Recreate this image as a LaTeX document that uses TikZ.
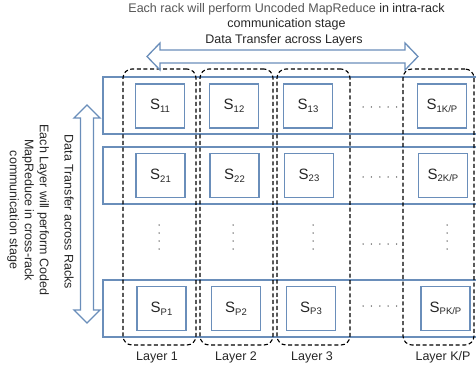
\documentclass[tikz,border=0pt]{standalone}
\usepackage{fontspec}
\setmainfont{Liberation Sans}
\definecolor{rackblue}{HTML}{6A8EBA}
\definecolor{txt}{HTML}{262626}
\definecolor{graytxt}{HTML}{555555}
\newcommand{\Sx}[1]{{\fontsize{15}{18}\selectfont S}\raisebox{-2.6pt}{\fontsize{9.5}{11}\selectfont #1}}
\tikzset{
  rack/.style={draw=rackblue, line width=1.3pt, minimum width=387pt, minimum height=57pt, inner sep=0pt},
  sbox/.style={draw=rackblue, line width=1.3pt, minimum width=49pt, minimum height=44pt, inner sep=0pt, text=txt},
  layerbox/.style={draw=black, dashed, dash pattern=on 4pt off 2.6pt, line width=1.1pt, rounded corners=9pt, minimum width=73pt, minimum height=276pt, inner sep=0pt},
  lbl/.style={text=txt, font=\fontsize{12.5}{15}\selectfont, inner sep=0pt, align=center},
  hollow/.style={draw=rackblue, fill=white, line width=1.3pt, line join=miter},
  dotsty/.style={fill=txt!80, draw=none}
}
\begin{document}
\begin{tikzpicture}[x=1pt, y=-1pt]
\useasboundingbox (0,0) rectangle (476,374);
\clip (0,0) rectangle (476,374);
% racks
\node[rack] (r1) at (296.5,105.5) {};
\node[rack] (r2) at (296.5,175.5) {};
\node[rack] (rp) at (296.5,308.5) {};
% layers
\node[layerbox] (l1) at (159.5,207) {};
\node[layerbox] (l2) at (236.5,207) {};
\node[layerbox] (l3) at (313.5,207) {};
\node[layerbox, minimum width=71pt] (lk) at (438.5,207) {};
% S boxes
\node[sbox] (s11) at (160,106) {\Sx{11}};
\node[sbox] (s12) at (234,106) {\Sx{12}};
\node[sbox] (s13) at (308,106) {\Sx{13}};
\node[sbox] (s1k) at (442,106) {\Sx{1K/P}};
\node[sbox] (s21) at (160.5,175.5) {\Sx{21}};
\node[sbox] (s22) at (234.5,175.5) {\Sx{22}};
\node[sbox] (s23) at (309,175.5) {\Sx{23}};
\node[sbox] (s2k) at (443,175.5) {\Sx{2K/P}};
\node[sbox] (sp1) at (161.5,308.5) {\Sx{P1}};
\node[sbox] (sp2) at (236,308.5) {\Sx{P2}};
\node[sbox] (sp3) at (311,308.5) {\Sx{P3}};
\node[sbox] (spk) at (445.5,308.5) {\Sx{PK/P}};
% horizontal dots
\foreach \yy in {107,177,244,306}{
  \foreach \i in {0,...,4}{
    \fill[dotsty] (363+8.4*\i,\yy) circle (0.75pt);
  }
}
% vertical dots
\foreach \xx in {159,233,313,447}{
  \foreach \i in {0,...,3}{
    \fill[dotsty] (\xx,225+8*\i) circle (0.75pt);
  }
}
% top arrow
\draw[hollow] (147,56.5) -- (160,43) -- (160,50) -- (405,50) -- (405,43) -- (418,56.5)
  -- (405,70) -- (405,63) -- (160,63) -- (160,70) -- cycle;
% left arrow
\draw[hollow] (87,105) -- (100,118) -- (93.5,118) -- (93.5,310) -- (100,310) -- (87,323)
  -- (74,310) -- (80.5,310) -- (80.5,118) -- (74,118) -- cycle;
% labels
\node[lbl] (toptext) at (286.5,17) {\textcolor{graytxt}{Each rack will perform Uncoded MapReduce} in intra-rack\\communication stage};
\node[lbl] (toparrow) at (284,40) {Data Transfer across Layers};
\node[lbl, rotate=-90] (lefttext) at (28,210) {Each Layer will perform Coded\\MapReduce in cross-rack\\communication stage};
\node[lbl, rotate=-90] (leftarrow) at (69,212) {Data Transfer across Racks};
\node[lbl] (lay1) at (157,357) {Layer 1};
\node[lbl] (lay2) at (236,357) {Layer 2};
\node[lbl] (lay3) at (312,357) {Layer 3};
\node[lbl] (layk) at (443,357) {Layer K/P};
\end{tikzpicture}
\end{document}
